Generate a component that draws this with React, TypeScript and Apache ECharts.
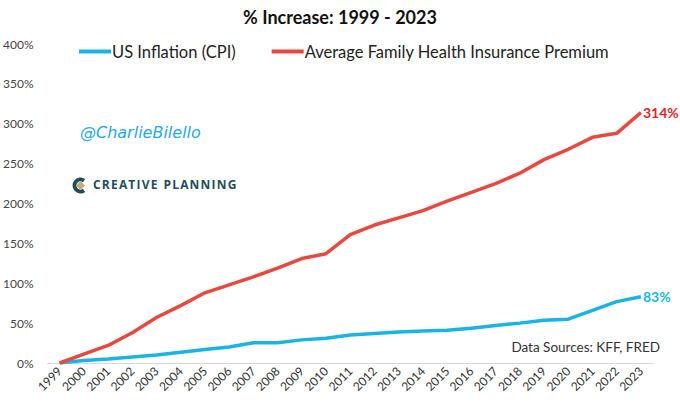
import React, { useEffect, useRef } from "react";
import * as echarts from "echarts";

const years = ["1999","2000","2001","2002","2003","2004","2005","2006","2007","2008","2009","2010","2011","2012","2013","2014","2015","2016","2017","2018","2019","2020","2021","2022","2023"];
const cpi = [0, 3, 5, 7.5, 10, 13.5, 17, 20, 25.5, 25.5, 29, 31, 35, 37, 39, 40, 41, 43.5, 47, 50, 53.5, 55, 66, 77, 83];
const premium = [0, 11, 22, 38, 57, 72, 88, 98, 108, 119, 131, 137, 161, 173, 182, 191, 203, 214, 225, 238, 255, 268, 283, 288, 314];
const seriesNames = ["US Inflation (CPI)", "Average Family Health Insurance Premium"];
const yTicks = { min: 0, max: 400, interval: 50 };

const BLUE = "#19b3e6";
const RED = "#e8493f";

export default function App() {
  const ref = useRef<HTMLDivElement>(null);
  useEffect(() => {
    if (!ref.current) return;
    const chart = echarts.init(ref.current, null, { renderer: "svg" });
    chart.setOption({
      animation: false,
      backgroundColor: "#ffffff",
      textStyle: { fontFamily: "Lato" },
      title: {
        text: "% Increase: 1999 - 2023",
        left: "center",
        top: 3,
        textStyle: { fontFamily: "Lato", fontSize: 18, fontWeight: "bold", color: "#111" },
      },
      legend: {
        top: 38,
        left: 74,
        itemWidth: 32,
        itemHeight: 4,
        itemGap: 36,
        icon: "rect",
        textStyle: { fontFamily: "Lato", fontSize: 16.5, color: "#222", padding: [0, 0, 0, -4] },
        data: seriesNames,
      },
      grid: { left: 47, right: 27, top: 44, bottom: 43, containLabel: false },
      xAxis: {
        type: "category",
        data: years,
        boundaryGap: true,
        axisLine: { lineStyle: { color: "#d9d9d9", width: 1 } },
        axisTick: { show: false },
        axisLabel: { rotate: 45, fontSize: 12, color: "#333", margin: 6, interval: 0 },
      },
      yAxis: {
        type: "value",
        min: yTicks.min,
        max: yTicks.max,
        interval: yTicks.interval,
        splitLine: { show: false },
        axisLine: { show: false },
        axisTick: { show: false },
        axisLabel: { formatter: "{value}%", fontSize: 12, color: "#444", margin: 14 },
      },
      graphic: [
        {
          type: "text",
          left: 80,
          top: 124,
          style: { text: "@CharlieBilello", fontFamily: "DejaVu Sans", fontStyle: "italic", fontSize: 16, fill: "#2aa8df" },
        },
        {
          type: "group",
          left: 72,
          top: 177,
          children: [
            { type: "arc", shape: { cx: 8, cy: 8, r: 6, startAngle: Math.PI * 0.3, endAngle: Math.PI * 1.7, clockwise: true }, style: { stroke: "#1f4d5c", lineWidth: 4, fill: "none" } },
            { type: "polygon", shape: { points: [[8, 3.5], [12.5, 8], [8, 12.5], [3.5, 8]] }, style: { fill: "#c8a882" } },
          ],
        },
        {
          type: "text",
          left: 93,
          top: 178,
          style: { text: "C\u200AR\u200AE\u200AA\u200AT\u200AI\u200AV\u200AE\u2002P\u200AL\u200AA\u200AN\u200AN\u200AI\u200AN\u200AG", fontFamily: "Open Sans", fontWeight: "bold", fontSize: 12, fill: "#1f4d5c" },
        },
        {
          type: "text",
          right: 20,
          top: 340,
          style: { text: "Data Sources: KFF, FRED", fontFamily: "Lato", fontSize: 13.5, fill: "#333" },
        },
      ],
      series: [
        {
          name: seriesNames[0],
          type: "line",
          data: cpi,
          symbol: "none",
          lineStyle: { color: BLUE, width: 3.5 },
          itemStyle: { color: BLUE },
          endLabel: { show: true, formatter: (p: any) => p.value + "%", color: BLUE, fontWeight: "bold", fontSize: 14, fontFamily: "Lato", distance: 2 },
        },
        {
          name: seriesNames[1],
          type: "line",
          data: premium,
          symbol: "none",
          lineStyle: { color: RED, width: 3.5 },
          itemStyle: { color: RED },
          endLabel: { show: true, formatter: (p: any) => p.value + "%", color: "#e0262a", fontWeight: "bold", fontSize: 14, fontFamily: "Lato", distance: 2 },
        },
      ],
    });
    return () => chart.dispose();
  }, []);
  return <div ref={ref} style={{ width: 680, height: 406, position: "absolute", left: 0, top: 0 }} />;
}
